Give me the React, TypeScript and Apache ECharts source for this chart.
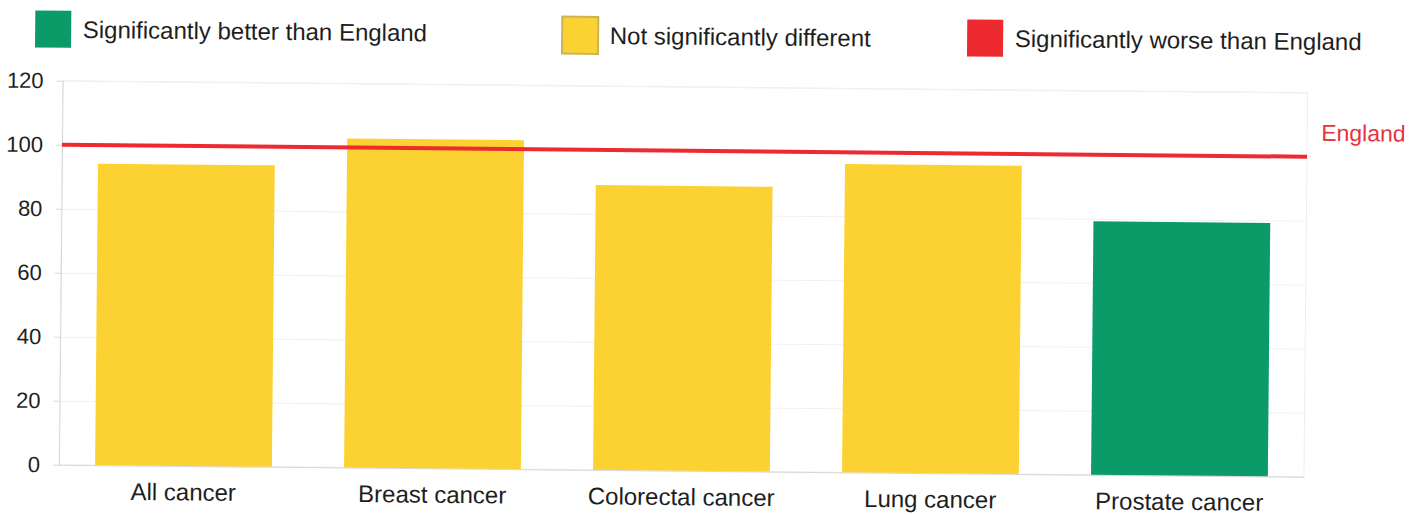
import React, { useEffect, useRef } from "react";
import * as echarts from "echarts";

const categories = ["All cancer", "Breast cancer", "Colorectal cancer", "Lung cancer", "Prostate cancer"];
const values = [94.2, 102.8, 89, 96.3, 79.2];
const status = ["similar", "similar", "similar", "similar", "better"];
const englandValue = 100;
const legendNames = ["Significantly better than England", "Not significantly different", "Significantly worse than England"];
const statusKeys = ["better", "similar", "worse"];
const yTicks = { min: 0, max: 120, interval: 20 };

const COLORS: Record<string, string> = {
  better: "#0A9B69",
  similar: "#FBD231",
  worse: "#EC2A30",
};
const FONT = "'Liberation Sans', Arial, sans-serif";
const legendLefts = [33, 559, 965];

export default function App() {
  const ref = useRef<HTMLDivElement>(null);
  useEffect(() => {
    if (!ref.current) return;
    const chart = echarts.init(ref.current, null, { renderer: "svg" });
    const legends = legendNames.map((name, i) => ({
      data: [name],
      left: legendLefts[i],
      top: 17,
      padding: 0,
      itemWidth: 36,
      itemHeight: 37,
      icon: "rect",
      selectedMode: false,
      formatter: (n: string) => " " + n,
      textStyle: { fontSize: 24, color: "#1e1e1e", fontFamily: FONT },
    }));
    const legendSeries = legendNames.map((name, i) => ({
      name,
      type: "scatter",
      data: [],
      itemStyle: {
        color: COLORS[statusKeys[i]],
        opacity: 1,
        borderColor: statusKeys[i] === "similar" ? "#c9b45a" : undefined,
        borderWidth: statusKeys[i] === "similar" ? 1 : 0,
      },
    }));
    chart.setOption({
      animation: false,
      textStyle: { fontFamily: FONT },
      legend: legends,
      grid: { left: 61, right: 117, top: 87, bottom: 44, show: true, borderColor: "#eeeeee", borderWidth: 1 },
      xAxis: {
        type: "category",
        data: categories,
        axisLine: { lineStyle: { color: "#d8d8d8" } },
        axisTick: { show: false },
        axisLabel: { fontSize: 24, color: "#1e1e1e", margin: 14, fontFamily: FONT },
      },
      yAxis: {
        type: "value",
        min: yTicks.min,
        max: yTicks.max,
        interval: yTicks.interval,
        axisLine: { show: true, lineStyle: { color: "#d8d8d8" } },
        axisTick: { show: true, length: 6, lineStyle: { color: "#d8d8d8" } },
        axisLabel: { fontSize: 22, color: "#1e1e1e", margin: 19, fontFamily: FONT },
        splitLine: { lineStyle: { color: "#f1f1f1" } },
      },
      series: [
        {
          name: "Value",
          type: "bar",
          barCategoryGap: "29%",
          data: values.map((v, i) => ({ value: v, itemStyle: { color: COLORS[status[i]] } })),
          markLine: {
            silent: true,
            symbol: "none",
            lineStyle: { color: "#EC2A30", width: 4, type: "solid" },
            label: {
              show: true,
              position: "end",
              formatter: "England",
              color: "#E8333F",
              fontSize: 23,
              fontFamily: FONT,
              distance: 0,
              offset: [14, -24],
            },
            data: [{ yAxis: englandValue }],
          },
        },
        ...legendSeries,
      ],
    });
    return () => chart.dispose();
  }, []);
  return (
    <div
      ref={ref}
      style={{
        position: "absolute",
        left: 0,
        top: 0,
        width: 1423,
        height: 515,
        background: "#fff",
        transform: "rotate(0.55deg)",
        transformOrigin: "50% 50%",
      }}
    />
  );
}
